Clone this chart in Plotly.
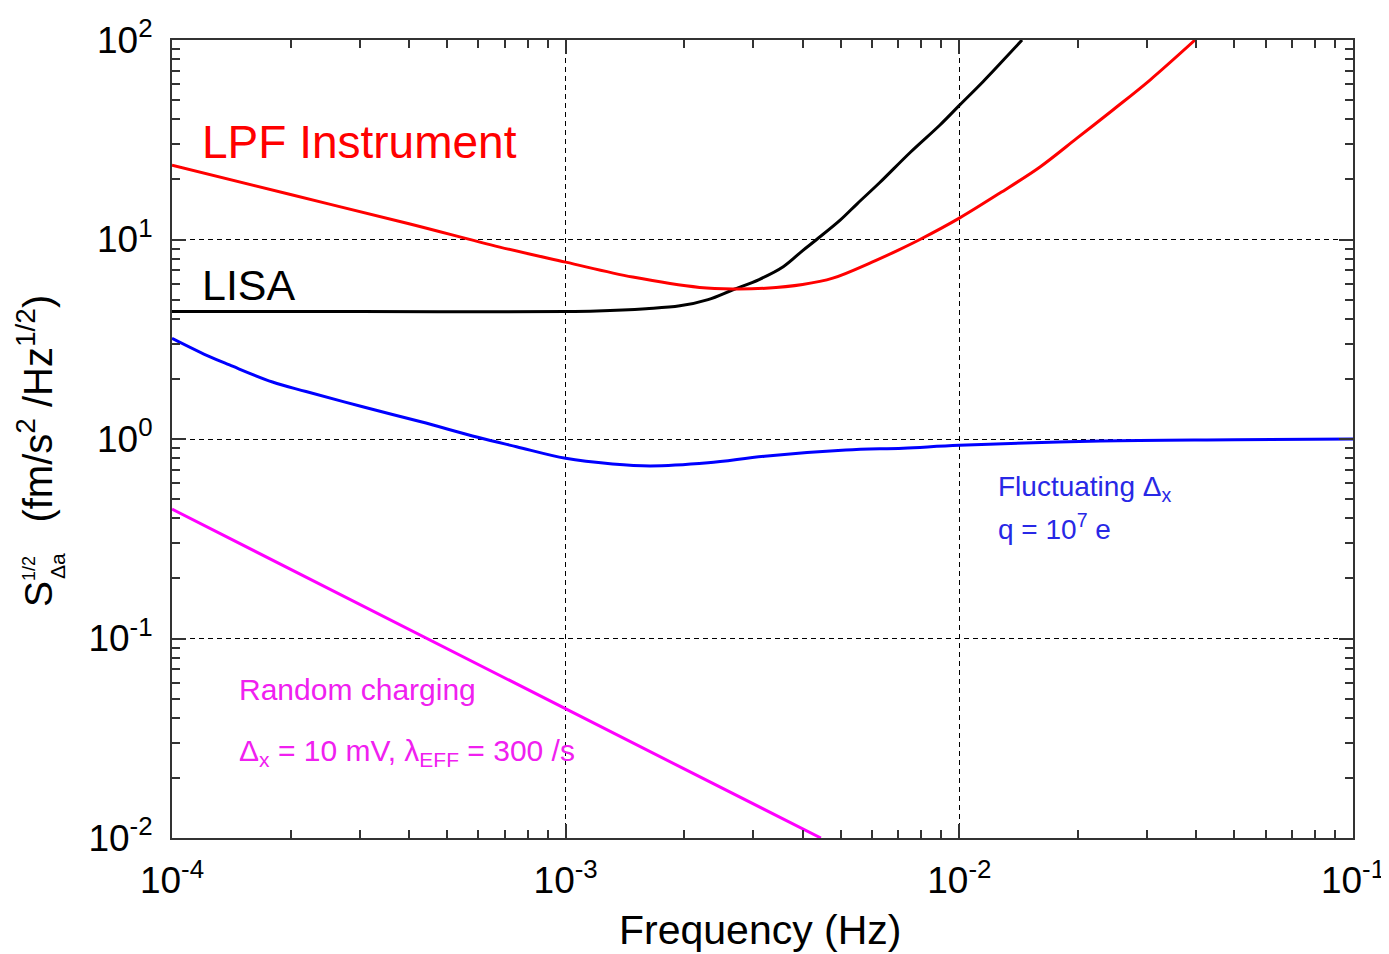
import plotly.graph_objects as go

# ---- data ----
lpf_f = [1e-4, 2e-4, 4e-4, 6.8e-4, 1e-3, 1.48e-3, 2.19e-3, 2.66e-3, 3.22e-3, 4e-3,
         4.77e-3, 6.0e-3, 7.0e-3, 7.94e-3, 1.0e-2, 1.268e-2, 1.603e-2, 1.99e-2,
         2.455e-2, 3.05e-2, 3.97e-2]
lpf_s = [23.6, 16.8, 12.0, 9.16, 7.7, 6.48, 5.75, 5.65, 5.7, 5.95,
         6.4, 7.7, 8.85, 10.0, 12.8, 17.1, 23.1, 32.2,
         44.6, 63.0, 100.0]

lisa_f = [1e-4, 3e-4, 1e-3, 1.2e-3, 1.6e-3, 1.95e-3, 2.3e-3, 2.66e-3, 3.1e-3, 3.57e-3,
          4.0e-3, 4.34e-3, 4.98e-3, 5.5e-3, 6.28e-3, 7.5e-3, 8.93e-3, 1.0e-2,
          1.15e-2, 1.268e-2, 1.443e-2]
lisa_s = [4.35, 4.35, 4.35, 4.38, 4.5, 4.65, 5.0, 5.6, 6.3, 7.3,
          8.8, 10.0, 12.5, 15.1, 19.3, 27.3, 37.5, 47.0,
          62.0, 76.0, 100.0]

fluct_f = [1e-4, 1.25e-4, 1.4e-4, 1.8e-4, 2.19e-4, 3.05e-4, 4.29e-4, 5.98e-4, 7.5e-4,
           1e-3, 1.315e-3, 1.64e-3, 2.3e-3, 3.2e-3, 5.15e-3, 7.2e-3, 1.0e-2,
           2.28e-2, 5e-2, 1e-1]
fluct_s = [3.2, 2.58, 2.35, 1.93, 1.73, 1.45, 1.22, 1.02, 0.915,
           0.80, 0.75, 0.733, 0.76, 0.82, 0.88, 0.90, 0.93,
           0.977, 0.99, 1.0]

rand_f = [1e-4, 2e-4, 5e-4, 1e-3, 2e-3, 4.45e-3]
rand_s = [0.445, 0.222, 0.089, 0.0445, 0.0222, 0.01]

x_tickvals = [1e-4, 1e-3, 1e-2, 1e-1]
x_ticktext = ['10<sup>-4</sup>', '10<sup>-3</sup>', '10<sup>-2</sup>', '10<sup>-1</sup>']
y_tickvals = [1e-2, 1e-1, 1e0, 1e1, 1e2]
y_ticktext = ['10<sup>-2</sup>', '10<sup>-1</sup>', '10<sup>0</sup>', '10<sup>1</sup>', '10<sup>2</sup>']

# target frame in the screenshot (page has an 8px body margin)
PAGE_OFF = 8
W, H = 1389 - PAGE_OFF, 954 - PAGE_OFF
L, R, T, B = 172, 1353, 40, 838


def xp(px):
    return (px - L) / (R - L)


def yp(py):
    return (B - py) / (B - T)


FONT = 'Liberation Sans, Arial, sans-serif'
AX = '#333333'

x_minor = [m * 10.0 ** e for e in range(-4, -1) for m in range(2, 10)]
y_minor = [m * 10.0 ** e for e in range(-2, 2) for m in range(2, 10)]

fig = go.Figure()
fig.add_trace(go.Scatter(x=lisa_f, y=lisa_s, mode='lines',
                         line=dict(color='black', width=3, shape='spline', smoothing=1.0), showlegend=False))
fig.add_trace(go.Scatter(x=lpf_f, y=lpf_s, mode='lines',
                         line=dict(color='#ff0000', width=3, shape='spline', smoothing=1.0), showlegend=False))
fig.add_trace(go.Scatter(x=fluct_f, y=fluct_s, mode='lines',
                         line=dict(color='#0000ff', width=3, shape='spline', smoothing=1.0), showlegend=False))
fig.add_trace(go.Scatter(x=rand_f, y=rand_s, mode='lines',
                         line=dict(color='#ff00ff', width=3), showlegend=False))

common = dict(
    type='log', ticks='inside', ticklen=14, tickwidth=2, tickcolor=AX,
    showline=True, linecolor=AX, linewidth=2, mirror='allticks',
    showgrid=True, gridcolor='black', gridwidth=1, griddash='5px,4px',
    zeroline=False, automargin=False,
    tickfont=dict(family=FONT, size=37, color='black'),
)

fig.update_xaxes(range=[-4, -1], tickvals=x_tickvals, ticktext=x_ticktext,
                 minor=dict(ticks='inside', ticklen=8, tickwidth=2, tickcolor=AX,
                            tickvals=x_minor, showgrid=False),
                 ticklabelstandoff=9, **common)
fig.update_yaxes(range=[-2, 2], tickvals=y_tickvals, ticktext=y_ticktext,
                 minor=dict(ticks='inside', ticklen=8, tickwidth=2, tickcolor=AX,
                            tickvals=y_minor, showgrid=False),
                 ticklabelstandoff=10, **common)

ann = []
# axis titles
ann.append(dict(text='Frequency (Hz)', x=xp(760), y=yp(930), xref='paper', yref='paper',
                xanchor='center', yanchor='middle', showarrow=False,
                font=dict(family=FONT, size=41, color='black')))
ytitle = ("<span style='font-size:39px'>S</span><sup><span style='font-size:18px'>1/2</span></sup>"
          "   (fm/s<sup>2</sup> /Hz<sup>1/2</sup>)")
ann.append(dict(text=ytitle, x=xp(35), y=yp(609), xref='paper', yref='paper',
                xanchor='center', yanchor='bottom', textangle=-90, showarrow=False,
                font=dict(family=FONT, size=40, color='black')))
ann.append(dict(text='Δa', x=xp(57), y=yp(566), xref='paper', yref='paper',
                xanchor='center', yanchor='middle', textangle=-90, showarrow=False,
                font=dict(family=FONT, size=21, color='black')))

# curve labels
ann.append(dict(text='LPF Instrument', x=xp(200), y=yp(142), xref='paper', yref='paper',
                xanchor='left', yanchor='middle', showarrow=False,
                font=dict(family=FONT, size=46, color='#ff0000')))
ann.append(dict(text='LISA', x=xp(200), y=yp(285), xref='paper', yref='paper',
                xanchor='left', yanchor='middle', showarrow=False,
                font=dict(family=FONT, size=43, color='black')))
ann.append(dict(text='Fluctuating Δ<sub>x</sub>', x=xp(996), y=yp(488), xref='paper', yref='paper',
                xanchor='left', yanchor='middle', showarrow=False,
                font=dict(family=FONT, size=28, color='#2828e6')))
ann.append(dict(text='q = 10<sup>7</sup> e', x=xp(996), y=yp(527), xref='paper', yref='paper',
                xanchor='left', yanchor='middle', showarrow=False,
                font=dict(family=FONT, size=28, color='#2828e6')))
ann.append(dict(text='Random charging', x=xp(237), y=yp(689), xref='paper', yref='paper',
                xanchor='left', yanchor='middle', showarrow=False,
                font=dict(family=FONT, size=30, color='#f020f0')))
ann.append(dict(text='Δ<sub>x</sub> = 10 mV, λ<sub>EFF</sub> = 300 /s', x=xp(237), y=yp(752),
                xref='paper', yref='paper', xanchor='left', yanchor='middle', showarrow=False,
                font=dict(family=FONT, size=30, color='#f020f0')))

fig.update_layout(width=W, height=H,
                  margin=dict(l=L - PAGE_OFF, r=W - (R - PAGE_OFF), t=T - PAGE_OFF, b=H - (B - PAGE_OFF)),
                  paper_bgcolor='white', plot_bgcolor='white',
                  font=dict(family=FONT, color='black'), annotations=ann, showlegend=False)

fig.write_html('out.html')
